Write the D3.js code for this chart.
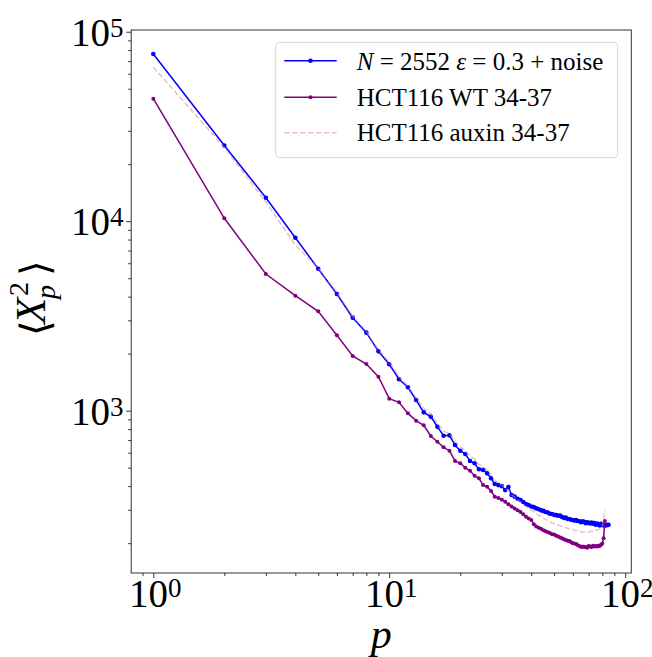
<!DOCTYPE html>
<html>
<head>
<meta charset="utf-8">
<script src="https://cdn.jsdelivr.net/npm/d3@7"></script>
<style>
  html, body { margin: 0; padding: 0; background: #fff; }
  svg { display: block; }
  text { font-family: "Liberation Serif", "Times New Roman", serif; fill: #000; }
</style>
</head>
<body>
<svg id="chart" width="652" height="657"></svg>
<script>
// ---- data ----
const seriesNames = ["N = 2552 ε = 0.3 + noise", "HCT116 WT 34-37", "HCT116 auxin 34-37"];

const simValues = [76200, 25100, 13300, 8180, 5615, 4130, 3097, 2581, 2057, 1757,
  1465, 1330, 1139, 980, 930, 823, 738, 741, 659, 615,
  591, 543, 528, 491, 487, 467, 440, 410, 405, 400,
  381, 396, 359, 352, 343, 338, 330, 322, 318, 312,
  310, 305, 302, 298, 296, 292, 290, 286, 285, 282,
  281, 279, 280, 275, 272, 273, 268, 268, 266, 265,
  263, 265, 262, 261, 258, 261, 259, 255, 258, 256,
  254, 257, 253, 255, 250, 254, 251, 248, 253, 249,
  252, 247, 250, 249, 250];

const wtValues = [44300, 10360, 5265, 4045, 3345, 2500, 1944, 1764, 1512, 1157,
  1107, 968, 886, 837, 735, 686, 641, 615, 543, 528,
  500, 482, 454, 440, 405, 397, 377, 352, 346, 339,
  331, 321, 312, 305, 298, 292, 284, 276, 270, 265,
  252, 245, 241, 238, 234, 231, 228, 226, 223, 222,
  219, 217, 214, 212, 210, 208, 206, 205, 202, 200,
  199, 198, 195, 193, 191, 192, 190, 191, 189, 193,
  192, 191, 194, 192, 193, 192, 194, 193, 196, 199,
  212, 262];

const auxinValues = [65000, 24500, 12600, 7500, 5650, 4200, 3150, 2620, 2100, 1800,
  1510, 1350, 1170, 1030, 960, 860, 780, 760, 690, 645,
  615, 575, 555, 520, 505, 485, 460, 430, 415, 405,
  390, 380, 360, 350, 338, 330, 320, 312, 305, 300,
  292, 287, 280, 276, 271, 267, 263, 259, 256, 253,
  251, 249, 247, 245, 243, 241, 240, 238, 237, 236,
  234, 233, 232, 231, 230, 229, 229, 229, 228, 229,
  230, 231, 232, 233, 234, 235, 236, 238, 242, 248,
  262, 300];

const xMajorTicks = [1, 10, 100];
const xTickExps = ["0", "1", "2"];
const yMajorTicks = [1e3, 1e4, 1e5];
const yTickExps = ["3", "4", "5"];

// ---- layout ----
const svg = d3.select("#chart");
const pLeft = 131.2, pRight = 631.3, pTop = 30, pBottom = 573;

const x = d3.scaleLog().domain([Math.pow(10, -0.0937), Math.pow(10, 2.026)]).range([pLeft, pRight]);
const y = d3.scaleLog().domain([Math.pow(10, 2.1435), Math.pow(10, 5.009)]).range([pBottom, pTop]);

function minorTicks(scale) {
  const [a, b] = scale.domain();
  const out = [];
  for (let e = Math.floor(Math.log10(a)); e <= Math.ceil(Math.log10(b)); e++) {
    for (let m = 2; m <= 9; m++) {
      const v = m * Math.pow(10, e);
      if (v >= a && v <= b) out.push(v);
    }
  }
  return out;
}

// minor ticks
const xMinor = svg.append("g").attr("transform", `translate(0,${pBottom})`)
  .call(d3.axisBottom(x).tickValues(minorTicks(x)).tickSize(3).tickFormat(""));
const yMinor = svg.append("g").attr("transform", `translate(${pLeft},0)`)
  .call(d3.axisLeft(y).tickValues(minorTicks(y)).tickSize(3).tickFormat(""));
// major ticks
const xMajor = svg.append("g").attr("transform", `translate(0,${pBottom})`)
  .call(d3.axisBottom(x).tickValues(xMajorTicks).tickSize(5).tickFormat(""));
const yMajor = svg.append("g").attr("transform", `translate(${pLeft},0)`)
  .call(d3.axisLeft(y).tickValues(yMajorTicks).tickSize(5).tickFormat(""));

[xMinor, yMinor, xMajor, yMajor].forEach(g => {
  g.select(".domain").remove();
  g.selectAll(".tick line").attr("stroke", "#333").attr("stroke-width", 1);
});

// tick labels with superscripts
xMajorTicks.forEach((v, i) => {
  const t = svg.append("text")
    .attr("x", x(v) + 2).attr("y", 607)
    .attr("text-anchor", "middle")
    .style("font-size", "39px");
  t.append("tspan").text("10");
  t.append("tspan").attr("dy", -10).style("font-size", "27px").text(xTickExps[i]);
});
yMajorTicks.forEach((v, i) => {
  const t = svg.append("text")
    .attr("x", 123.5).attr("y", y(v) + 14)
    .attr("text-anchor", "end")
    .style("font-size", "39px");
  t.append("tspan").text("10");
  t.append("tspan").attr("dy", -9).style("font-size", "27px").text(yTickExps[i]);
});

// frame
svg.append("rect")
  .attr("x", pLeft).attr("y", pTop)
  .attr("width", pRight - pLeft).attr("height", pBottom - pTop)
  .attr("fill", "none").attr("stroke", "#333").attr("stroke-width", 1);

// ---- series ----
const line = d3.line().x(d => x(d.p)).y(d => y(d.v));
const toPts = arr => arr.map((v, i) => ({ p: i + 1, v }));

const plot = svg.append("g");
const sim = toPts(simValues), wt = toPts(wtValues), aux = toPts(auxinValues);

plot.append("path").datum(sim).attr("d", line)
  .attr("fill", "none").attr("stroke", "#0000ff").attr("stroke-width", 1.5);
plot.selectAll(".simdot").data(sim).enter().append("circle")
  .attr("cx", d => x(d.p)).attr("cy", d => y(d.v)).attr("r", 2.3).attr("fill", "#0000ff");

plot.append("path").datum(wt).attr("d", line)
  .attr("fill", "none").attr("stroke", "#800080").attr("stroke-width", 1.5);
plot.selectAll(".wtdot").data(wt).enter().append("circle")
  .attr("cx", d => x(d.p)).attr("cy", d => y(d.v)).attr("r", 2.0).attr("fill", "#800080");

plot.append("path").datum(aux).attr("d", line)
  .attr("fill", "none").attr("stroke", "rgba(215,140,150,0.55)").attr("stroke-width", 1.5)
  .attr("stroke-dasharray", "5.5,2.4");

// ---- legend ----
const lg = svg.append("g");
lg.append("rect").attr("x", 275.7).attr("y", 42.3).attr("width", 342).attr("height", 115.4)
  .attr("rx", 4).attr("ry", 4)
  .attr("fill", "rgba(255,255,255,0.8)").attr("stroke", "#d6d6d6").attr("stroke-width", 1);

const rowsY = [60.7, 97.3, 132.7];
const hx0 = 284.3, hx1 = 336.7;
lg.append("line").attr("x1", hx0).attr("x2", hx1).attr("y1", rowsY[0]).attr("y2", rowsY[0])
  .attr("stroke", "#0000ff").attr("stroke-width", 1.5);
lg.append("circle").attr("cx", (hx0 + hx1) / 2).attr("cy", rowsY[0]).attr("r", 2.3).attr("fill", "#0000ff");
lg.append("line").attr("x1", hx0).attr("x2", hx1).attr("y1", rowsY[1]).attr("y2", rowsY[1])
  .attr("stroke", "#800080").attr("stroke-width", 1.5);
lg.append("circle").attr("cx", (hx0 + hx1) / 2).attr("cy", rowsY[1]).attr("r", 2.0).attr("fill", "#800080");
lg.append("line").attr("x1", hx0).attr("x2", hx1).attr("y1", rowsY[2]).attr("y2", rowsY[2])
  .attr("stroke", "rgba(215,140,150,0.55)").attr("stroke-width", 1.5).attr("stroke-dasharray", "5.5,2.4");

const tx = 356.7;
const t0 = lg.append("text").attr("x", tx).attr("y", rowsY[0] + 9).style("font-size", "25px");
t0.append("tspan").style("font-style", "italic").text("N");
t0.append("tspan").text(" = 2552 ");
t0.append("tspan").style("font-style", "italic").text("ε");
t0.append("tspan").text(" = 0.3 + noise");
lg.append("text").attr("x", tx).attr("y", rowsY[1] + 8.5).style("font-size", "25px").text(seriesNames[1]);
lg.append("text").attr("x", tx).attr("y", rowsY[2] + 8.5).style("font-size", "25px").text(seriesNames[2]);

// ---- axis labels ----
svg.append("text").attr("x", (pLeft + pRight) / 2).attr("y", 648)
  .attr("text-anchor", "middle").style("font-size", "42px").style("font-style", "italic").text("p");

const yl = svg.append("g").attr("transform", "translate(45,300) rotate(-90)");
yl.append("text").attr("x", -36).attr("y", 4).style("font-size", "40px")
  .style("font-family", "DejaVu Serif").style("font-weight", "200").text("⟨");
yl.append("text").attr("x", -24).attr("y", 0).style("font-size", "43px").style("font-style", "italic").text("X");
yl.append("text").attr("x", 4).attr("y", -17).style("font-size", "28px").text("2");
yl.append("text").attr("x", 1).attr("y", 10).style("font-size", "28px").style("font-style", "italic").text("p");
yl.append("text").attr("x", 24).attr("y", 4).style("font-size", "40px")
  .style("font-family", "DejaVu Serif").style("font-weight", "200").text("⟩");
</script>
</body>
</html>
